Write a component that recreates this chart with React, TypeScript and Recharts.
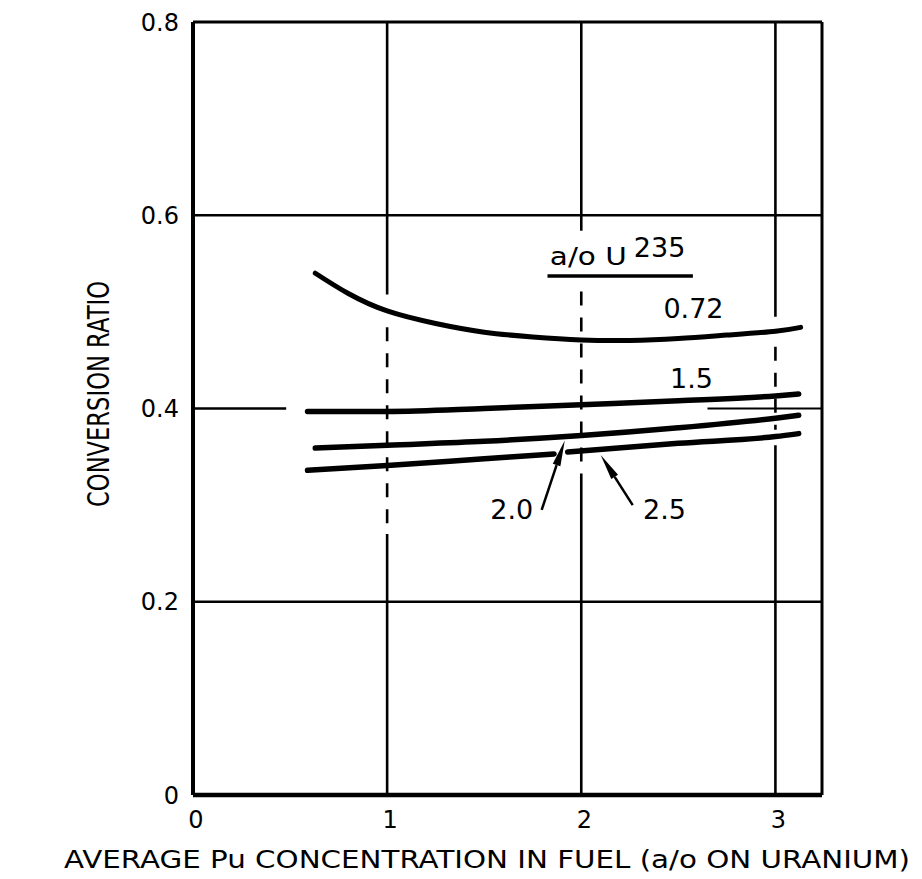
import React from 'react';
import { LineChart, Line, XAxis, YAxis, ReferenceLine, ReferenceDot } from 'recharts';

// Pu concentration (a/o on uranium) and conversion ratio per U-235 enrichment
const pu072 = [0.63, 0.8, 1.0, 1.25, 1.5, 1.75, 2.0, 2.25, 2.5, 2.75, 3.0, 3.13];
const cr072 = [0.540, 0.519, 0.501, 0.488, 0.479, 0.474, 0.471, 0.4705, 0.4725, 0.476, 0.480, 0.484];

const pu15 = [0.59, 1.0, 1.5, 2.0, 2.5, 3.0, 3.12];
const cr15 = [0.397, 0.397, 0.400, 0.404, 0.408, 0.413, 0.415];

const pu20 = [0.63, 1.0, 1.5, 2.0, 2.5, 3.0, 3.12];
const cr20 = [0.359, 0.362, 0.366, 0.372, 0.380, 0.390, 0.393];

// the 2.5 curve is broken where the 2.0 pointer crosses it
const pu25 = [0.59, 1.0, 1.5, 1.86, 1.895, 1.93, 2.5, 3.0, 3.12];
const cr25 = [0.336, 0.341, 0.348, 0.353, null, 0.355, 0.364, 0.371, 0.374];

const xTicks = [0, 1, 2, 3];
const yTicks = [0, 0.2, 0.4, 0.6, 0.8];
const X_MAX = 3.24;

const zip = (xs: number[], ys: (number | null)[]) => xs.map((x, i) => ({ x, y: ys[i] }));

const curves = [
  { key: '0.72', data: zip(pu072, cr072), width: 5, type: 'natural' },
  { key: '1.5', data: zip(pu15, cr15), width: 5.5, type: 'monotone' },
  { key: '2.0', data: zip(pu20, cr20), width: 5.5, type: 'monotone' },
  { key: '2.5', data: zip(pu25, cr25), width: 5.5, type: 'monotone' },
];

const FONT = '"DejaVu Sans", sans-serif';

// grid pieces, drawn by hand with the breaks of the original drafting
const gridSolid: [number, number, number, number][] = [
  [1, 0.8, 1, 0.518], [1, 0.27, 1, 0],
  [2, 0.8, 2, 0.584], [2, 0.327, 2, 0],
  [3, 0.8, 3, 0.495], [3, 0.362, 3, 0],
  [0, 0.6, X_MAX, 0.6], [0, 0.2, X_MAX, 0.2],
  [0, 0.4, 0.48, 0.4],
];
const gridDashed: [number, number, number, number][] = [
  [1, 0.484, 1, 0.27],
  [2, 0.521, 2, 0.327],
  [3, 0.464, 3, 0.378],
];

const notes = [
  { x: 2.578, y: 0.504, text: '0.72' },
  { x: 2.568, y: 0.431, text: '1.5' },
  { x: 1.642, y: 0.296, text: '2.0' },
  { x: 2.429, y: 0.296, text: '2.5' },
];

const arrows: [number, number, number, number][] = [
  [1.796, 0.295, 1.915, 0.367],
  [2.265, 0.300, 2.100, 0.352],
];

const Arrow = (p: any) => {
  const { x1, y1, x2, y2 } = p;
  const len = Math.hypot(x2 - x1, y2 - y1);
  const ux = (x2 - x1) / len;
  const uy = (y2 - y1) / len;
  const bx = x2 - ux * 26;
  const by = y2 - uy * 26;
  const nx = -uy * 4;
  const ny = ux * 4;
  return (
    <g>
      <line x1={x1} y1={y1} x2={bx} y2={by} stroke="#000" strokeWidth={2.5} />
      <polygon points={`${x2},${y2} ${bx + nx},${by + ny} ${bx - nx},${by - ny}`} fill="#000" />
    </g>
  );
};

export default function App() {
  return (
    <div style={{ position: 'absolute', left: 0, top: 0, width: 922, height: 879, background: '#fff' }}>
      <LineChart width={922} height={879} margin={{ top: 22, right: 100, bottom: 24, left: 0 }}>
        <XAxis
          type="number"
          dataKey="x"
          domain={[0, X_MAX]}
          ticks={xTicks}
          allowDataOverflow
          height={60}
          tickSize={0}
          tickMargin={16}
          axisLine={{ stroke: '#000', strokeWidth: 4.5 }}
          tick={{ fill: '#000', fontSize: 24, fontFamily: FONT, dx: 3 }}
          label={{
            content: () => (
              <text x={487} y={868} textAnchor="middle" fontSize={25} fontFamily={FONT} fill="#000"
                textLength={846} lengthAdjust="spacingAndGlyphs">
                AVERAGE Pu CONCENTRATION IN FUEL (a/o ON URANIUM)
              </text>
            ),
          }}
        />
        <YAxis
          type="number"
          domain={[0, 0.8]}
          ticks={yTicks}
          width={193}
          tickSize={0}
          tickMargin={14}
          axisLine={{ stroke: '#000', strokeWidth: 4 }}
          tick={{ fill: '#000', fontSize: 24, fontFamily: FONT }}
          tickFormatter={(v: number) => (v === 0 ? '0' : v.toFixed(1))}
          label={{
            content: () => (
              <text x={109} y={394} transform="rotate(-90 109 394)" textAnchor="middle" fontSize={30}
                fontFamily={FONT} fill="#000" textLength={226} lengthAdjust="spacingAndGlyphs">
                CONVERSION RATIO
              </text>
            ),
          }}
        />

        {/* frame top and right */}
        <ReferenceLine y={0.8} stroke="#000" strokeWidth={3} />
        <ReferenceLine x={X_MAX} stroke="#000" strokeWidth={3} />

        {gridSolid.map(([xa, ya, xb, yb], i) => (
          <ReferenceLine key={`gs${i}`} segment={[{ x: xa, y: ya }, { x: xb, y: yb }]} stroke="#000" strokeWidth={2.6} />
        ))}
        {gridDashed.map(([xa, ya, xb, yb], i) => (
          <ReferenceLine key={`gd${i}`} segment={[{ x: xa, y: ya }, { x: xb, y: yb }]} stroke="#000"
            strokeWidth={2.6} strokeDasharray="14 12" />
        ))}
        <ReferenceLine segment={[{ x: 2.65, y: 0.4 }, { x: X_MAX, y: 0.4 }]} stroke="#000" strokeWidth={1.8} />

        {curves.map((c) => (
          <Line
            key={c.key}
            data={c.data}
            dataKey="y"
            type={c.type as any}
            stroke="#000"
            strokeWidth={c.width}
            strokeLinecap="round"
            dot={false}
            activeDot={false}
            connectNulls={false}
            isAnimationActive={false}
          />
        ))}

        {/* legend heading */}
        <ReferenceLine segment={[{ x: 1.826, y: 0.537 }, { x: 2.575, y: 0.537 }]} stroke="#000" strokeWidth={3.5} />
        <ReferenceDot
          x={1.838}
          y={0.549}
          r={0}
          shape={(p: any) => (
            <g>
              <text x={p.cx} y={p.cy} fontFamily={FONT} fill="#000" fontSize={25} textLength={77}
                lengthAdjust="spacingAndGlyphs">
                a/o U
              </text>
              <text x={p.cx + 84} y={p.cy - 8} fontFamily={FONT} fill="#000" fontSize={27}>
                235
              </text>
            </g>
          )}
        />

        {notes.map((n) => (
          <ReferenceDot
            key={n.text}
            x={n.x}
            y={n.y}
            r={0}
            shape={(p: any) => (
              <text x={p.cx} y={p.cy} dy="0.36em" textAnchor="middle" fontFamily={FONT} fontSize={27} fill="#000">
                {n.text}
              </text>
            )}
          />
        ))}

        {arrows.map(([xa, ya, xb, yb], i) => (
          <ReferenceLine key={`ar${i}`} segment={[{ x: xa, y: ya }, { x: xb, y: yb }]} shape={Arrow} />
        ))}
      </LineChart>
    </div>
  );
}
